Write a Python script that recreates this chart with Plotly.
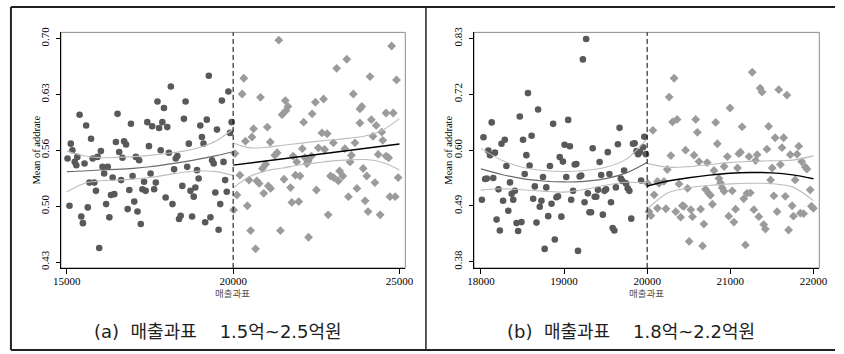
import plotly.graph_objects as go

W, H = 844, 354

# ---------------- panel (a): 매출과표 1.5억~2.5억원 ----------------
A_LEFT_X = [15020, 15118, 15167, 15236, 15285, 15315, 15383, 15531, 15580, 15728, 15777, 15924, 16023, 16072, 16229,
            16121, 15678, 15826, 15875, 15079, 15433, 15482, 15629, 15973, 16180, 16278, 16327, 16426, 16377, 16475,
            16524, 16573, 16672, 16721, 16780, 16632, 16829, 16878, 16927, 16976, 17026, 17075, 17124, 17173, 17222,
            17271, 17321, 17370, 17419, 17468, 17517, 17566, 17625, 17675, 17724, 17773, 17822, 17871, 17920, 17970,
            18019, 18068, 18127, 18176, 18225, 18275, 18324, 18373, 18422, 18471, 18520, 18570, 18619, 18668, 18717,
            18766, 18815, 18864, 18914, 18963, 19012, 19061, 19110, 19159, 19208, 19268, 19317, 19366, 19415, 19464,
            19513, 19563, 19612, 19661, 19710, 19759, 19808, 19858, 19907, 19956]
A_LEFT_Y = [0.555, 0.573, 0.565, 0.551, 0.547, 0.557, 0.608, 0.549, 0.595, 0.579, 0.555, 0.557, 0.564, 0.545, 0.545,
            0.537, 0.526, 0.526, 0.516, 0.498, 0.485, 0.477, 0.496, 0.447, 0.500, 0.484, 0.511, 0.512, 0.532, 0.575,
            0.609, 0.563, 0.556, 0.576, 0.572, 0.529, 0.494, 0.517, 0.597, 0.534, 0.503, 0.557, 0.491, 0.553, 0.476,
            0.518, 0.527, 0.516, 0.599, 0.570, 0.537, 0.594, 0.518, 0.526, 0.624, 0.592, 0.565, 0.599, 0.616, 0.508,
            0.593, 0.562, 0.642, 0.500, 0.542, 0.555, 0.558, 0.482, 0.486, 0.522, 0.603, 0.624, 0.545, 0.573, 0.516,
            0.485, 0.509, 0.520, 0.541, 0.531, 0.595, 0.581, 0.573, 0.478, 0.602, 0.655, 0.484, 0.553, 0.549, 0.514,
            0.590, 0.469, 0.500, 0.625, 0.551, 0.529, 0.515, 0.636, 0.586, 0.599]

A_RIGHT_X = [21372, 24764, 23417, 23112, 20320, 24115, 24912, 20271, 20821, 23614, 22719, 22473, 21569, 21647, 21588,
             21470, 22375, 23811, 23870, 24597, 24814, 22119, 23811, 24155, 24302, 21028, 20615, 20566, 20369, 21116,
             22670, 22827, 24469, 24204, 24499, 23014, 23663, 20054, 21254, 21323, 22080, 21805, 22562, 22749, 23358,
             23555, 24361, 24597, 24676, 21913, 22159, 22257, 22355, 22218, 20979, 20880, 23516, 23909, 20202, 20477,
             20713, 20782, 21873, 22011, 21529, 22926, 23024, 23201, 23299, 23162, 24017, 24263, 24961, 21057, 21126,
             21726, 20113, 20920, 22503, 23722, 23467, 24715, 24873, 21765, 21972, 23968, 20428, 20015, 24056, 24420,
             22857, 20526, 21421, 22267, 20674]
A_RIGHT_Y = [0.698, 0.691, 0.675, 0.664, 0.652, 0.654, 0.650, 0.633, 0.629, 0.633, 0.627, 0.623, 0.625, 0.618, 0.613,
             0.608, 0.609, 0.615, 0.618, 0.610, 0.610, 0.599, 0.598, 0.602, 0.595, 0.593, 0.591, 0.581, 0.576, 0.575,
             0.586, 0.585, 0.587, 0.582, 0.577, 0.574, 0.574, 0.561, 0.559, 0.562, 0.567, 0.558, 0.568, 0.566, 0.567,
             0.559, 0.560, 0.558, 0.556, 0.551, 0.556, 0.552, 0.558, 0.549, 0.548, 0.543, 0.551, 0.543, 0.535, 0.529,
             0.528, 0.525, 0.535, 0.534, 0.530, 0.534, 0.532, 0.540, 0.534, 0.528, 0.534, 0.526, 0.532, 0.522, 0.519,
             0.520, 0.511, 0.513, 0.517, 0.519, 0.509, 0.509, 0.509, 0.502, 0.503, 0.504, 0.498, 0.493, 0.491, 0.487,
             0.487, 0.468, 0.468, 0.460, 0.446]

# fitted lines and confidence bands, panel (a)
A_FIT_L_X = [15000, 15500, 16000, 16500, 17000, 17500, 18000, 18500, 19000, 19500, 20000]
A_FIT_L = [0.5392, 0.5400, 0.5412, 0.5420, 0.5432, 0.5451, 0.5479, 0.5510, 0.5546, 0.5585, 0.5632]
A_CI_L_HI = [0.5640, 0.5585, 0.5561, 0.5565, 0.5573, 0.5589, 0.5612, 0.5640, 0.5687, 0.5766, 0.5907]
A_CI_L_LO = [0.5149, 0.5247, 0.5282, 0.5290, 0.5302, 0.5322, 0.5353, 0.5384, 0.5400, 0.5392, 0.5345]

A_FIT_R_X = [20000, 25000]
A_FIT_R = [0.5471, 0.5726]
A_CI_R_X = [20000, 20500, 21000, 21500, 22000, 22500, 23000, 23500, 24000, 24500, 25000]
A_CI_R_HI = [0.5738, 0.5679, 0.5687, 0.5711, 0.5734, 0.5758, 0.5777, 0.5797, 0.5825, 0.5895, 0.6033]
A_CI_R_LO = [0.5196, 0.5333, 0.5404, 0.5436, 0.5475, 0.5498, 0.5522, 0.5534, 0.5538, 0.5502, 0.5412]

A_XTICKS = [15000, 20000, 25000]
A_XTICK_TEXT = ["15000", "20000", "25000"]
A_YTICKS = [0.43, 0.4975, 0.565, 0.6325, 0.70]
A_YTICK_TEXT = ["0.43", "0.50", "0.56", "0.63", "0.70"]

# ---------------- panel (b): 매출과표 1.8억~2.2억원 ----------------
B_LEFT_X = [19266, 19227, 18566, 18688, 18468, 18130, 18869, 19050, 19668, 18031, 18248, 18287, 18507, 18610, 19007,
            19070, 19648, 19829, 19849, 19966, 18090, 18110, 18169, 18547, 19345, 19526, 19872, 19892, 19911, 19986,
            18948, 18987, 18307, 18586, 18830, 19129, 19148, 19428, 19723, 18527, 18051, 18071, 18149, 18747, 19027,
            19188, 19207, 19447, 19546, 18350, 18212, 18649, 18787, 19683, 19703, 19746, 19766, 19786, 19927, 19624,
            18370, 18409, 18012, 18267, 18389, 18629, 18728, 19109, 19086, 19286, 18850, 18909, 18928, 19247, 19369,
            19388, 19408, 19487, 19506, 19565, 18708, 18330, 18189, 19306, 19325, 19467, 18810, 18968, 19809, 18429,
            18488, 18669, 18228, 18448, 19585, 19605, 18889, 18767, 19168, 19951]
B_LEFT_Y = [0.829, 0.788, 0.720, 0.687, 0.673, 0.661, 0.658, 0.666, 0.650, 0.631, 0.618, 0.626, 0.626, 0.634, 0.616,
            0.613, 0.617, 0.618, 0.619, 0.632, 0.604, 0.595, 0.600, 0.595, 0.609, 0.601, 0.603, 0.597, 0.601, 0.597,
            0.591, 0.582, 0.573, 0.574, 0.573, 0.576, 0.577, 0.581, 0.564, 0.557, 0.547, 0.548, 0.549, 0.551, 0.551,
            0.552, 0.554, 0.555, 0.557, 0.540, 0.526, 0.532, 0.530, 0.548, 0.543, 0.538, 0.528, 0.523, 0.544, 0.530,
            0.517, 0.523, 0.505, 0.503, 0.505, 0.507, 0.503, 0.523, 0.505, 0.518, 0.497, 0.510, 0.512, 0.500, 0.511,
            0.511, 0.525, 0.523, 0.526, 0.500, 0.491, 0.483, 0.465, 0.480, 0.480, 0.475, 0.472, 0.471, 0.467, 0.458,
            0.460, 0.459, 0.443, 0.442, 0.448, 0.443, 0.425, 0.406, 0.402, 0.611]

B_RIGHT_X = [21264, 20324, 21359, 21382, 21583, 21681, 20265, 20997, 20305, 20360, 20584, 20824, 21142, 21461, 20069,
             20604, 21540, 21642, 20844, 20462, 20564, 20285, 20623, 20722, 20965, 21103, 21123, 21225, 21323, 21304,
             21441, 21622, 21721, 21803, 21823, 21858, 21902, 21921, 20242, 20926, 20804, 21087, 21504, 21603, 20863,
             20883, 20124, 20143, 20202, 20383, 20486, 20903, 20926, 21024, 21485, 21780, 21961, 20702, 20741, 20761,
             20084, 21201, 21241, 21162, 21524, 21662, 20785, 20423, 20442, 20022, 20124, 20226, 20525, 20643, 21064,
             21284, 21744, 21976, 22000, 20045, 20344, 20403, 20545, 20981, 21343, 21563, 21760, 21843, 21882, 21044,
             20682, 21402, 21422, 21701, 20505, 20667, 21182, 20006]
B_RIGHT_Y = [0.762, 0.750, 0.730, 0.722, 0.727, 0.716, 0.712, 0.690, 0.662, 0.667, 0.667, 0.661, 0.652, 0.653, 0.645,
             0.641, 0.630, 0.630, 0.618, 0.605, 0.595, 0.594, 0.582, 0.580, 0.592, 0.598, 0.601, 0.592, 0.596, 0.584,
             0.607, 0.610, 0.596, 0.597, 0.613, 0.582, 0.571, 0.567, 0.566, 0.572, 0.564, 0.569, 0.569, 0.576, 0.548,
             0.539, 0.542, 0.538, 0.542, 0.537, 0.528, 0.529, 0.522, 0.523, 0.545, 0.545, 0.525, 0.526, 0.518, 0.514,
             0.515, 0.518, 0.519, 0.507, 0.513, 0.512, 0.496, 0.493, 0.492, 0.481, 0.488, 0.487, 0.485, 0.486, 0.486,
             0.485, 0.493, 0.492, 0.488, 0.473, 0.481, 0.470, 0.471, 0.472, 0.471, 0.481, 0.472, 0.478, 0.477, 0.460,
             0.456, 0.455, 0.446, 0.444, 0.421, 0.412, 0.414, 0.538]

# fitted curves and confidence bands, panel (b)
B_FIT_L_X = [18000, 18250, 18500, 18750, 19000, 19250, 19500, 19750, 20000]
B_FIT_L = [0.5672, 0.5560, 0.5475, 0.5429, 0.5409, 0.5422, 0.5475, 0.5593, 0.5803]
B_CI_L_HI = [0.6086, 0.5849, 0.5705, 0.5639, 0.5619, 0.5639, 0.5705, 0.5869, 0.6276]
B_CI_L_LO = [0.5245, 0.5271, 0.5251, 0.5225, 0.5205, 0.5258, 0.5343, 0.5402, 0.5396]

B_FIT_R_X = [20000, 20250, 20500, 20750, 21000, 21250, 21500, 21750, 22000]
B_FIT_R = [0.5324, 0.5429, 0.5494, 0.5547, 0.5586, 0.5600, 0.5593, 0.5553, 0.5475]
B_CI_R_HI = [0.5783, 0.5705, 0.5718, 0.5757, 0.5803, 0.5823, 0.5836, 0.5849, 0.5935]
B_CI_R_LO = [0.4864, 0.5192, 0.5291, 0.5337, 0.5370, 0.5383, 0.5376, 0.5310, 0.5034]

B_XTICKS = [18000, 19000, 20000, 21000, 22000]
B_XTICK_TEXT = ["18000", "19000", "20000", "21000", "22000"]
B_YTICKS = [0.38, 0.4925, 0.605, 0.7175, 0.83]
B_YTICK_TEXT = ["0.38", "0.49", "0.60", "0.72", "0.83"]

CUTOFF = 20000
NB = "\u00a0"
CAPTIONS = ["(a)" + NB * 2 + "매출과표" + NB * 4 + "1.5억~2.5억원",
            "(b)" + NB * 2 + "매출과표" + NB * 4 + "1.8억~2.2억원"]
Y_TITLE = "Mean of addrate"
X_TITLE = "매출과표"

DARK = "#595959"
LIGHT = "#9b9b9b"
BAND = "#bdbdbd"
SERIF = "Liberation Serif, Times New Roman, serif"
KR = "Noto Sans CJK KR, sans-serif"
CAP_FONT = "DejaVu Sans, Noto Sans CJK KR, sans-serif"

fig = go.Figure()


def add_panel(xa, ya, lx, ly, rx, ry, fl_x, fl, cl_hi, cl_lo, fr_x, fr, cr_x, cr_hi, cr_lo):
    fig.add_trace(go.Scatter(x=lx, y=ly, mode="markers", xaxis=xa, yaxis=ya,
                             marker=dict(symbol="circle", size=6.6, color=DARK, line=dict(width=0))))
    fig.add_trace(go.Scatter(x=rx, y=ry, mode="markers", xaxis=xa, yaxis=ya,
                             marker=dict(symbol="diamond", size=6.8, color=LIGHT, line=dict(width=0))))
    for yy in (cl_hi, cl_lo):
        fig.add_trace(go.Scatter(x=fl_x, y=yy, mode="lines", xaxis=xa, yaxis=ya,
                                 line=dict(color=BAND, width=1.1, shape="spline", smoothing=0.8)))
    for yy in (cr_hi, cr_lo):
        fig.add_trace(go.Scatter(x=cr_x, y=yy, mode="lines", xaxis=xa, yaxis=ya,
                                 line=dict(color=BAND, width=1.1, shape="spline", smoothing=0.8)))
    fig.add_trace(go.Scatter(x=fl_x, y=fl, mode="lines", xaxis=xa, yaxis=ya,
                             line=dict(color="#6a6a6a", width=1.2, shape="spline", smoothing=0.8)))
    fig.add_trace(go.Scatter(x=fr_x, y=fr, mode="lines", xaxis=xa, yaxis=ya,
                             line=dict(color="black", width=1.4, shape="spline", smoothing=0.8)))


add_panel("x", "y", A_LEFT_X, A_LEFT_Y, A_RIGHT_X, A_RIGHT_Y,
          A_FIT_L_X, A_FIT_L, A_CI_L_HI, A_CI_L_LO, A_FIT_R_X, A_FIT_R, A_CI_R_X, A_CI_R_HI, A_CI_R_LO)
add_panel("x2", "y2", B_LEFT_X, B_LEFT_Y, B_RIGHT_X, B_RIGHT_Y,
          B_FIT_L_X, B_FIT_L, B_CI_L_HI, B_CI_L_LO, B_FIT_R_X, B_FIT_R, B_FIT_R_X, B_CI_R_HI, B_CI_R_LO)

# pixel geometry of the two plot areas
TOP, BOTTOM = 27, 268
A_L, A_R = 54, 405
B_L, B_R = 475, 827
ydom = [1 - BOTTOM / H, 1 - TOP / H]


def xaxis(dom, rng, vals, text, anchor):
    return dict(domain=dom, range=rng, tickvals=vals, ticktext=text, ticks="outside", ticklen=5,
                tickwidth=1, tickcolor="black", showline=True, linecolor="black", linewidth=1,
                showgrid=False, zeroline=False, anchor=anchor, fixedrange=True, ticklabelstandoff=-2,
                tickfont=dict(family=SERIF, size=11, color="black"))


def yaxis(rng, vals, text, anchor):
    return dict(domain=ydom, range=rng, tickvals=vals, ticktext=text, ticks="outside", ticklen=4,
                tickwidth=1, tickcolor="black", showline=True, linecolor="black", linewidth=1,
                showgrid=False, zeroline=False, anchor=anchor, tickangle=-90, fixedrange=True,
                ticklabelstandoff=3,
                tickfont=dict(family=SERIF, size=11, color="black"))


shapes = []
annotations = []
for xa, ya, (l, r) in (("x", "y", (A_L, A_R)), ("x2", "y2", (B_L, B_R))):
    # grey outline of the plot region
    shapes.append(dict(type="rect", xref="paper", yref="paper", x0=l / W, x1=r / W, y0=ydom[0], y1=ydom[1],
                       line=dict(color="#8c8c8c", width=1), layer="below"))
    # dashed cutoff line
    shapes.append(dict(type="line", xref=xa, yref=ya + " domain", x0=CUTOFF, x1=CUTOFF, y0=0, y1=1,
                       line=dict(color="black", width=1, dash="5px,3px")))

# outer frame of the figure
for x0, y0, x1, y1, w in ((3, 1, 843, 1, 2), (3, 1, 3, 352, 2), (426, 1, 426, 352, 1.5), (3, 352, 843, 352, 2)):
    shapes.append(dict(type="line", xref="paper", yref="paper", x0=x0 / W, x1=x1 / W,
                       y0=1 - y0 / H, y1=1 - y1 / H, line=dict(color="#222222", width=w)))

for ycx, xcap, cap, xcut in ((29, 214, CAPTIONS[0], 229), (449, 635, CAPTIONS[1], 651)):
    annotations.append(dict(text=Y_TITLE, x=ycx / W, y=1 - (TOP + BOTTOM) / 2 / H, xref="paper", yref="paper",
                            textangle=-90, showarrow=False, xanchor="center", yanchor="middle",
                            font=dict(family=SERIF, size=10.5, color="black")))
    annotations.append(dict(text=X_TITLE, x=xcut / W, y=1 - 294 / H, xref="paper", yref="paper",
                            showarrow=False, xanchor="center", yanchor="middle",
                            font=dict(family=KR, size=9.5, color="#555555")))
    annotations.append(dict(text=cap, x=xcap / W, y=1 - 333 / H, xref="paper", yref="paper",
                            showarrow=False, xanchor="center", yanchor="middle",
                            font=dict(family=CAP_FONT, size=18, color="#1e1e1e")))

fig.update_layout(
    width=W, height=H, margin=dict(l=0, r=0, t=0, b=0),
    paper_bgcolor="white", plot_bgcolor="white", showlegend=False,
    xaxis=xaxis([A_L / W, A_R / W], [14823, 25177], A_XTICKS, A_XTICK_TEXT, "y"),
    yaxis=yaxis([0.4229, 0.7074], A_YTICKS, A_YTICK_TEXT, "x"),
    xaxis2=xaxis([B_L / W, B_R / W], [17917, 22071], B_XTICKS, B_XTICK_TEXT, "y2"),
    yaxis2=yaxis([0.3676, 0.8424], B_YTICKS, B_YTICK_TEXT, "x2"),
    shapes=shapes, annotations=annotations,
)

fig.write_html("out.html", config={"displayModeBar": False})
